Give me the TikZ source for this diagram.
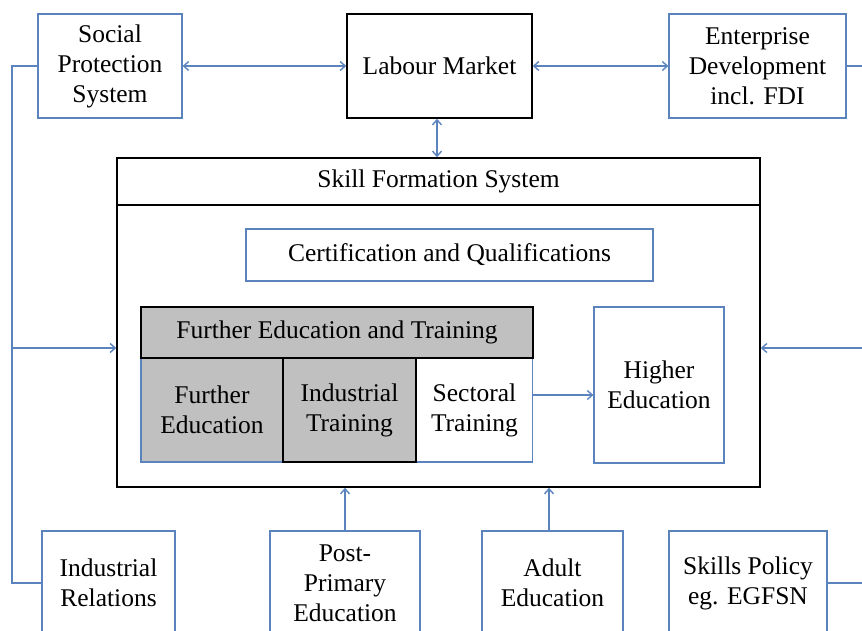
\documentclass[tikz,border=0pt]{standalone}
\usepackage{fontspec}
\setmainfont{Liberation Serif}
\usepackage{tikz}
\usetikzlibrary{arrows.meta,positioning,calc}
\definecolor{linkblue}{HTML}{5B84BE}
\definecolor{boxgrey}{HTML}{C0C0C0}
\tikzset{
  bluebox/.style={rectangle,draw=linkblue,line width=1.3pt,fill=white,
    align=center,font=\fontsize{25.5}{30}\selectfont,inner sep=2pt},
  blackbox/.style={rectangle,draw=black,line width=1.6pt,fill=white,
    align=center,font=\fontsize{25.5}{30}\selectfont,inner sep=2pt},
  linkarr/.style={{Straight Barb[length=5pt,width=9pt]}-{Straight Barb[length=5pt,width=9pt]},line width=1.4pt,color=linkblue},
  inarr/.style={-{Straight Barb[length=5pt,width=9pt]},line width=1.4pt,color=linkblue},
  linkline/.style={line width=1.3pt,color=linkblue},
}
\begin{document}
\begin{tikzpicture}[x=1pt,y=-1pt]
  \useasboundingbox (0,0) rectangle (862,631);

  % top row
  \node[bluebox,minimum width=144pt,minimum height=104pt] (social) at (110,66) {Social\\Protection\\System};
  \node[blackbox,minimum width=185pt,minimum height=104pt] (labour) at (439.5,66) {Labour Market};
  \node[bluebox,minimum width=177pt,minimum height=104pt] (enterprise) at (757.5,66) {Enterprise\\Development\\incl. FDI};

  % skill formation system frame
  \node[blackbox,minimum width=643pt,minimum height=329pt] (sfs) at (438.5,322.5) {};
  \node[blackbox,minimum width=643pt,minimum height=47pt] (sfshead) at (438.5,181.5) {Skill Formation System};
  \node[bluebox,minimum width=407pt,minimum height=52pt] (cert) at (449.5,255) {Certification and Qualifications};

  % further education and training block
  \node[bluebox,fill=boxgrey,minimum width=142pt,minimum height=104pt] (fe) at (212,410) {Further\\Education};
  \node[bluebox,minimum width=116pt,minimum height=104pt] (st) at (474.5,410) {Sectoral\\Training};
  \node[blackbox,fill=boxgrey,minimum width=133pt,minimum height=104pt] (it) at (349.5,410) {Industrial\\Training};
  \node[blackbox,fill=boxgrey,minimum width=392pt,minimum height=51pt] (fet) at (337,332.5) {Further Education and Training};
  \node[bluebox,minimum width=130pt,minimum height=156pt] (he) at (659,385) {Higher\\Education};

  % bottom row
  \node[bluebox,minimum width=133pt,minimum height=104pt] (ir) at (108.5,583) {Industrial\\Relations};
  \node[bluebox,minimum width=150pt,minimum height=104pt] (pp) at (345,583) {Post-\\Primary\\Education};
  \node[bluebox,minimum width=141pt,minimum height=104pt] (ae) at (552.5,583) {Adult\\Education};
  \node[bluebox,minimum width=158pt,minimum height=104pt] (sp) at (748,583) {Skills Policy\\eg. EGFSN};

  % side buses
  \coordinate (ltop) at (12,66);
  \coordinate (lmid) at (12,348);
  \coordinate (rtop) at (866,66);
  \coordinate (rmid) at (866,348);

  \draw[linkarr] (social) -- (labour);
  \draw[linkarr] (labour) -- (enterprise);
  \draw[linkarr] ([xshift=-2.5pt]labour.south) -- ([xshift=-2.5pt]labour.south |- sfs.north);
  \draw[linkline] (social.west) -- (ltop) |- (ir.west);
  \draw[linkline] (enterprise.east) -- (rtop) |- (sp.east);
  \draw[inarr] (lmid) -- (sfs.west |- lmid);
  \draw[inarr] (rmid) -- (sfs.east |- rmid);
  \draw[inarr] (pp.north) -- (pp.north |- sfs.south);
  \draw[inarr] ([xshift=-3.5pt]ae.north) -- ([xshift=-3.5pt]ae.north |- sfs.south);
  \draw[inarr] ([yshift=15pt]st.east) -- ([yshift=15pt]st.east -| he.west);
\end{tikzpicture}
\end{document}
